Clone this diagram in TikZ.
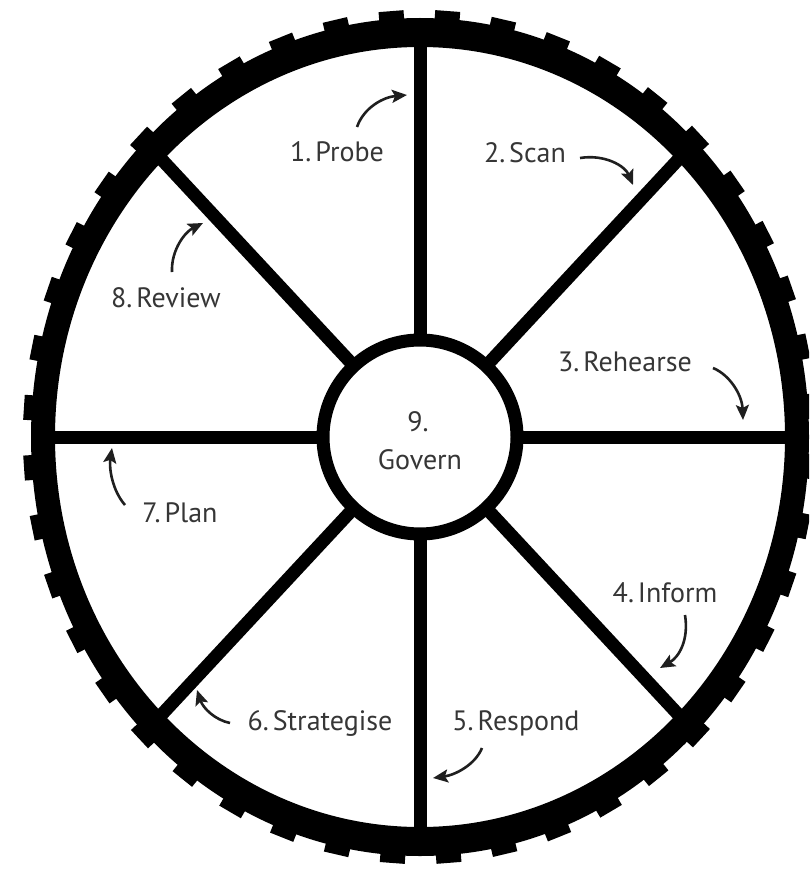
\documentclass[tikz,border=0pt]{standalone}
\usepackage{fontspec}
\setmainfont{PT Sans}
\usetikzlibrary{arrows.meta}
\definecolor{textgray}{HTML}{363636}
\newcommand{\nsp}{\hspace{0.14em}}
\begin{document}
\begin{tikzpicture}[x=1pt,y=-1pt,
  lbl/.style={font=\fontsize{28}{30}\selectfont, text=textgray, inner sep=0pt, anchor=center},
  arr/.style={line width=2.6pt, draw=black!88, -{Stealth[length=15pt,width=13pt,inset=3pt]}},
  spoke/.style={line width=13pt, draw=black},
  tooth/.style={fill=black, minimum width=20pt, minimum height=25pt, inner sep=0pt, outer sep=0pt},
  hubstyle/.style={circle, draw=black, line width=13pt, fill=white, minimum size=194pt, inner sep=0pt}]
\useasboundingbox (0,0) rectangle (809,869);
\clip (0,0) rectangle (809,869);
\coordinate (c) at (420,437);
% spokes
\foreach \t/\n in {0/e,45/se,90/s,135/sw,180/w,225/nw,270/n,315/ne}
  \draw[spoke] (c) -- ({420+376*cos(\t)}, {437+404*sin(\t)}) coordinate (\n);
% rim
\fill[black, even odd rule] (c) ellipse [x radius=389, y radius=419] (c) ellipse [x radius=365, y radius=390];
% teeth
\foreach \i in {0,...,43} {
  \pgfmathsetmacro\t{\i*360/44 + 4}
  \pgfmathsetmacro\ang{atan2(-sin(\t)*389, cos(\t)*419)}
  \node[tooth, rotate=\ang] (tooth\i) at ({420+387*cos(\t)}, {437+417*sin(\t)}) {};
}
% hub
\node[hubstyle] (hub) at (c) {};
\node[lbl] (n9) at (418,422) {9.};
\node[lbl] (gov) at (420,460) {Govern};
% labels
\node[lbl] (l1) at (337,152) {1.\nsp Probe};
\node[lbl] (l2) at (525,153) {2.\nsp Scan};
\node[lbl] (l3) at (625,362) {3.\nsp Rehearse};
\node[lbl] (l4) at (665,593) {4.\nsp Inform};
\node[lbl] (l5) at (516,723) {5.\nsp Respond};
\node[lbl] (l6) at (320,723) {6.\nsp Strategise};
\node[lbl] (l7) at (180,513) {7.\nsp Plan};
\node[lbl] (l8) at (166,298) {8.\nsp Review};
% arrows
\coordinate (a1s) at (357,127); \coordinate (a1e) at (407,95);
\coordinate (a2s) at (580,158); \coordinate (a2e) at (633,185);
\coordinate (a3s) at (713,368); \coordinate (a3e) at (743,420);
\coordinate (a4s) at (685,615); \coordinate (a4e) at (660,668);
\coordinate (a5s) at (482,748); \coordinate (a5e) at (433,778);
\coordinate (a6s) at (230,723); \coordinate (a6e) at (197,690);
\coordinate (a7s) at (125,505); \coordinate (a7e) at (112,448);
\coordinate (a8s) at (172,272); \coordinate (a8e) at (203,223);
\draw[arr] (a1s) .. controls (364,107) and (384,97) .. (a1e);
\draw[arr] (a2s) .. controls (605,154) and (625,166) .. (a2e);
\draw[arr] (a3s) .. controls (730,375) and (742,395) .. (a3e);
\draw[arr] (a4s) .. controls (689,640) and (679,657) .. (a4e);
\draw[arr] (a5s) .. controls (475,765) and (455,775) .. (a5e);
\draw[arr] (a6s) .. controls (215,720) and (203,708) .. (a6e);
\draw[arr] (a7s) .. controls (112,490) and (109,468) .. (a7e);
\draw[arr] (a8s) .. controls (171,250) and (185,232) .. (a8e);
\end{tikzpicture}
\end{document}
